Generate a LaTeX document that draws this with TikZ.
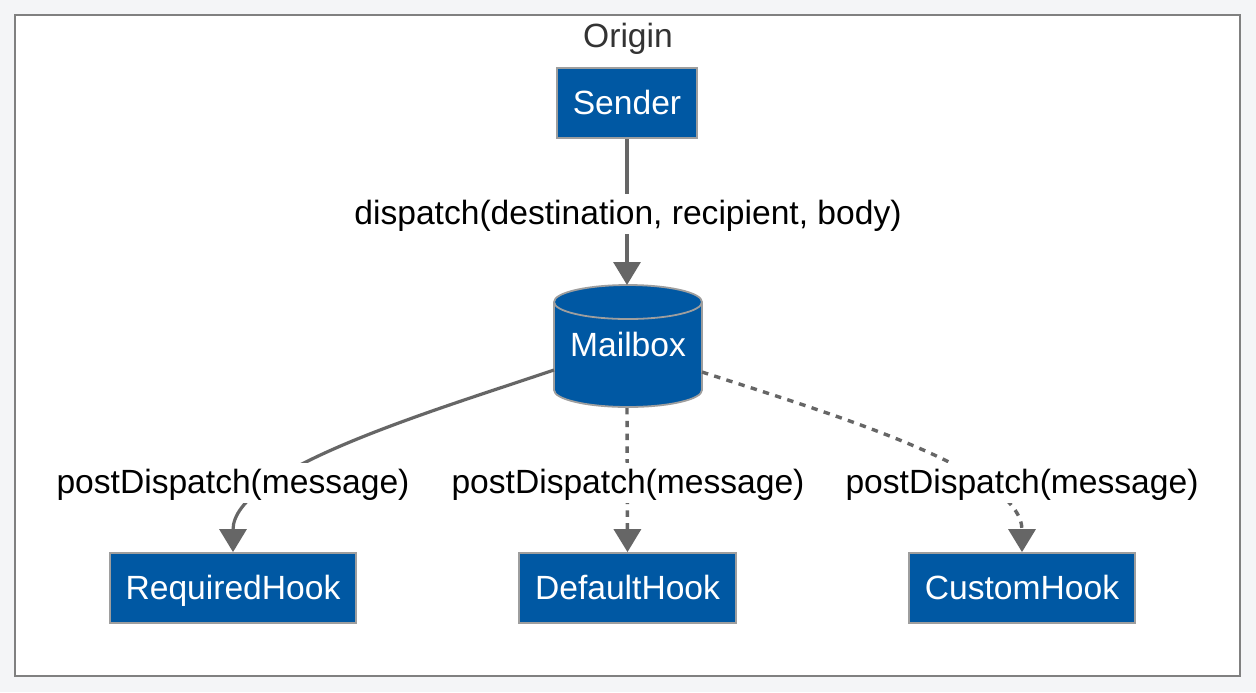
\documentclass[tikz,border=0pt]{standalone}
\usepackage{fontspec}
\setmainfont{Liberation Sans}
\usetikzlibrary{arrows.meta}
\definecolor{boxblue}{RGB}{0,88,163}
\definecolor{boxborder}{RGB}{158,158,158}
\definecolor{conncol}{RGB}{102,102,102}
\definecolor{bgcol}{RGB}{244,245,247}
\definecolor{framecol}{RGB}{128,128,128}
\definecolor{titlecol}{RGB}{51,51,51}
\tikzset{
  txt/.style={font=\fontsize{16.8}{20}\selectfont, text height=14pt, text depth=3pt},
  hookbox/.style={txt, fill=boxblue, draw=boxborder, line width=0.9pt, text=white,
    minimum height=35pt, inner sep=0pt},
  conn/.style={draw=conncol, line width=1.6pt,
    -{Triangle[length=11.5pt,width=13.5pt]}},
  dotconn/.style={conn, line width=1.7pt, dash pattern=on 3.2pt off 3.2pt},
  lbl/.style={txt, fill=white, inner sep=1.5pt, text=black},
}
\begin{document}
\begin{tikzpicture}[x=0.5pt,y=-0.5pt]
\fill[bgcol] (0,0) rectangle (1256,692);
\draw[framecol, line width=1.2pt, fill=white] (15,15) rectangle (1240,676);
\useasboundingbox (0,0) rectangle (1256,692);

\node[txt, text=titlecol] (origin) at (628,36) {Origin};

\node[hookbox, minimum width=70pt] (sender) at (627,103) {Sender};

% Mailbox cylinder
\path[fill=boxblue, draw=boxborder, line width=0.9pt]
  (554,302) -- (554,390) arc[start angle=180, end angle=0, x radius=74, y radius=17]
  -- (702,302) arc[start angle=0, end angle=-180, x radius=74, y radius=17] -- cycle;
\draw[boxborder, line width=0.9pt] (554,302) arc[start angle=180, end angle=0, x radius=74, y radius=17];
\node[txt, text=white] (mailbox) at (628,345.5) {Mailbox};
\coordinate (mbtop) at (627,285);
\coordinate (mbbot) at (627,408);
\coordinate (mbL) at (554,370);
\coordinate (mbR) at (702,372);

\node[hookbox, minimum width=123pt] (required) at (233,588) {RequiredHook};
\node[hookbox, minimum width=108.5pt] (default) at (627.5,588) {DefaultHook};
\node[hookbox, minimum width=113pt] (custom) at (1022,588) {CustomHook};

\draw[conn] (sender.south) -- (mbtop);
\draw[conn] (mbL) .. controls (430,412) and (233,470) .. (required.north);
\draw[dotconn] (mbbot) -- (default.north);
\draw[dotconn] (mbR) .. controls (825,412) and (1022,470) .. (custom.north);

\node[lbl] (l1) at (628,213.5) {dispatch(destination, recipient, body)};
\node[lbl] (l2) at (233,482.5) {postDispatch(message)};
\node[lbl] (l3) at (628,482.5) {postDispatch(message)};
\node[lbl] (l4) at (1022,482.5) {postDispatch(message)};
\end{tikzpicture}
\end{document}
